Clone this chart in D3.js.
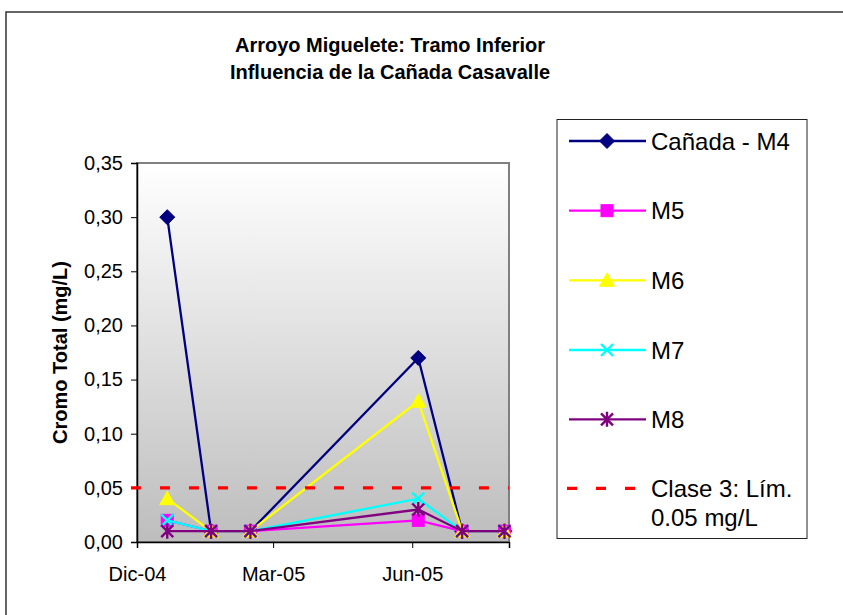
<!DOCTYPE html>
<html>
<head>
<meta charset="utf-8">
<script src="https://cdn.jsdelivr.net/npm/d3@7"></script>
<style>
  html, body { margin: 0; padding: 0; background: #fff; }
  svg { display: block; font-family: "Liberation Sans", Arial, sans-serif; }
</style>
</head>
<body>
<svg id="chart" width="843" height="615"></svg>
<script>
// Sampling dates and total chromium (mg/L) per station
const sampleDates = ["2004-12-21", "2005-01-19", "2005-02-14", "2005-06-05", "2005-07-04", "2005-08-01"];
const seriesNames = ["Cañada - M4", "M5", "M6", "M7", "M8"];
const valuesM4 = [0.30, 0.01, 0.01, 0.17, 0.01, 0.01];
const valuesM5 = [0.02, 0.01, 0.01, 0.02, 0.01, 0.01];
const valuesM6 = [0.04, 0.01, 0.01, 0.13, 0.01, 0.01];
const valuesM7 = [0.02, 0.01, 0.01, 0.04, 0.01, 0.01];
const valuesM8 = [0.01, 0.01, 0.01, 0.03, 0.01, 0.01];

// Class 3 limit line
const limitName = ["Clase 3: Lím.", "0.05 mg/L"];
const limitDates = ["2004-11-27", "2005-08-04"];
const limitValues = [0.05, 0.05];

// Axes
const yTicks = [0, 0.05, 0.10, 0.15, 0.20, 0.25, 0.30, 0.35];
const xTickDates = ["2004-12-01", "2005-03-01", "2005-06-01"];
const xTickLabels = ["Dic-04", "Mar-05", "Jun-05"];
const xDomain = ["2004-12-01", "2005-08-04"];

const titleLines = ["Arroyo Miguelete: Tramo Inferior", "Influencia de la Cañada Casavalle"];
const yTitle = "Cromo Total (mg/L)";

const parse = d3.timeParse("%Y-%m-%d");
const svg = d3.select("#chart");

const plot = { left: 137, right: 509, top: 163, bottom: 542 };

const x = d3.scaleTime().domain(xDomain.map(parse)).range([plot.left, plot.right]);
const y = d3.scaleLinear().domain([0, 0.35]).range([plot.bottom, plot.top]);

// Outer chart frame
svg.append("rect")
  .attr("x", 6).attr("y", 12).attr("width", 860).attr("height", 640)
  .attr("fill", "none").attr("stroke", "#333").attr("stroke-width", 1.5);

// Plot area gradient
const defs = svg.append("defs");
const grad = defs.append("linearGradient").attr("id", "bg").attr("x1", 0).attr("y1", 0).attr("x2", 0).attr("y2", 1);
grad.append("stop").attr("offset", "0%").attr("stop-color", "#ffffff");
grad.append("stop").attr("offset", "100%").attr("stop-color", "#bdbdbd");

svg.append("rect")
  .attr("x", plot.left).attr("y", plot.top)
  .attr("width", plot.right - plot.left).attr("height", plot.bottom - plot.top)
  .attr("fill", "url(#bg)").attr("stroke", "#808080").attr("stroke-width", 2);

// Title
svg.append("g").selectAll("text").data(titleLines).join("text")
  .attr("x", 390).attr("y", (d, i) => 52 + i * 27)
  .attr("text-anchor", "middle")
  .attr("font-weight", "bold").attr("font-size", 20)
  .text(d => d);

// Y axis
const yAxis = d3.axisLeft(y).tickValues(yTicks).tickSize(6).tickPadding(8)
  .tickFormat(d => d3.format(".2f")(d).replace(".", ","));
const gy = svg.append("g").attr("transform", `translate(${plot.left},0)`).call(yAxis);
gy.select(".domain").attr("stroke", "#000").attr("stroke-width", 1.5);
gy.selectAll(".tick line").attr("stroke", "#000");
gy.selectAll(".tick text").attr("font-size", 20).attr("font-family", "Liberation Sans, Arial, sans-serif").attr("fill", "#000");

// X axis
const xAxis = d3.axisBottom(x).tickValues(xTickDates.map(parse)).tickSize(6).tickPadding(19)
  .tickFormat((d, i) => xTickLabels[i]);
const gx = svg.append("g").attr("transform", `translate(0,${plot.bottom})`).call(xAxis);
gx.select(".domain").attr("stroke", "#000").attr("stroke-width", 1.5);
gx.selectAll(".tick line").attr("stroke", "#000");
gx.selectAll(".tick text").attr("font-size", 20).attr("font-family", "Liberation Sans, Arial, sans-serif").attr("fill", "#000");

// Y axis title
svg.append("text")
  .attr("transform", `translate(67,${(plot.top + plot.bottom) / 2}) rotate(-90)`)
  .attr("text-anchor", "middle")
  .attr("font-weight", "bold").attr("font-size", 20)
  .text(yTitle);

// Marker shapes
function drawMarker(g, kind, color, cx, cy) {
  if (kind === "diamond") {
    g.append("path").attr("d", `M${cx},${cy - 7.5}L${cx + 7.5},${cy}L${cx},${cy + 7.5}L${cx - 7.5},${cy}Z`)
      .attr("fill", color).attr("stroke", color);
  } else if (kind === "square") {
    g.append("rect").attr("x", cx - 6).attr("y", cy - 6).attr("width", 12).attr("height", 12)
      .attr("fill", color).attr("stroke", color);
  } else if (kind === "triangle") {
    g.append("path").attr("d", `M${cx},${cy - 7.5}L${cx + 7.5},${cy + 6}L${cx - 7.5},${cy + 6}Z`)
      .attr("fill", color).attr("stroke", color);
  } else if (kind === "x") {
    g.append("path").attr("d", `M${cx - 6},${cy - 6}L${cx + 6},${cy + 6}M${cx - 6},${cy + 6}L${cx + 6},${cy - 6}`)
      .attr("stroke", color).attr("stroke-width", 2.4).attr("fill", "none");
  } else if (kind === "star") {
    g.append("path").attr("d", `M${cx - 6},${cy - 6}L${cx + 6},${cy + 6}M${cx - 6},${cy + 6}L${cx + 6},${cy - 6}M${cx},${cy - 7.5}L${cx},${cy + 7.5}`)
      .attr("stroke", color).attr("stroke-width", 2.4).attr("fill", "none");
  }
}

const series = [
  { name: seriesNames[0], values: valuesM4, color: "#000080", marker: "diamond" },
  { name: seriesNames[1], values: valuesM5, color: "#ff00ff", marker: "square" },
  { name: seriesNames[2], values: valuesM6, color: "#ffff00", marker: "triangle" },
  { name: seriesNames[3], values: valuesM7, color: "#00ffff", marker: "x" },
  { name: seriesNames[4], values: valuesM8, color: "#800080", marker: "star" }
];

const line = d3.line().x(d => x(d.date)).y(d => y(d.value));
const dates = sampleDates.map(parse);

series.forEach(s => {
  const pts = dates.map((d, i) => ({ date: d, value: s.values[i] }));
  const g = svg.append("g");
  g.append("path").datum(pts).attr("d", line)
    .attr("fill", "none").attr("stroke", s.color).attr("stroke-width", 2.3);
  pts.forEach(p => drawMarker(g, s.marker, s.color, x(p.date), y(p.value)));
});

// Limit line
const limitPts = limitDates.map((d, i) => ({ date: parse(d), value: limitValues[i] }));
svg.append("path").datum(limitPts).attr("d", line)
  .attr("fill", "none").attr("stroke", "#ff0000").attr("stroke-width", 3.3)
  .attr("stroke-dasharray", "10,19");

// Legend
const legend = svg.append("g");
legend.append("rect")
  .attr("x", 557).attr("y", 119.5).attr("width", 250).attr("height", 419)
  .attr("fill", "#fff").attr("stroke", "#222").attr("stroke-width", 1);

const rowY = [141, 210.7, 280.3, 350, 419.3];
series.forEach((s, i) => {
  const ry = rowY[i];
  legend.append("line").attr("x1", 569).attr("x2", 646).attr("y1", ry).attr("y2", ry)
    .attr("stroke", s.color).attr("stroke-width", 2.3);
  drawMarker(legend, s.marker, s.color, 607, ry);
  legend.append("text").attr("x", 651).attr("y", ry + 8.5)
    .attr("font-size", 24).text(s.name);
});
legend.append("line").attr("x1", 567).attr("x2", 648).attr("y1", 488.3).attr("y2", 488.3)
  .attr("stroke", "#ff0000").attr("stroke-width", 3.3).attr("stroke-dasharray", "10,19");
legend.selectAll("text.lim").data(limitName).join("text")
  .attr("class", "lim")
  .attr("x", 651).attr("y", (d, i) => 497 + i * 29)
  .attr("font-size", 24).text(d => d);
</script>
</body>
</html>
